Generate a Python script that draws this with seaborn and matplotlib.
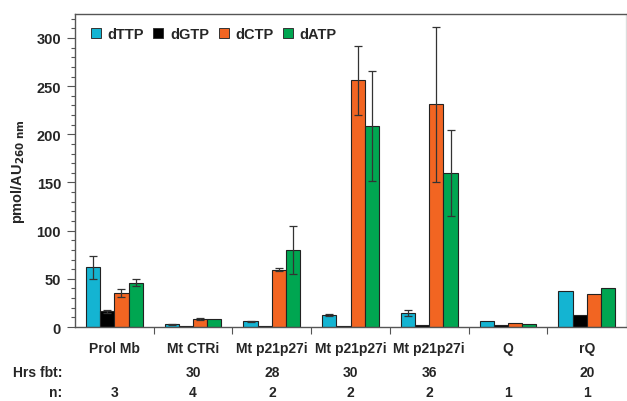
import matplotlib
matplotlib.use("Agg")
import matplotlib.pyplot as plt
from matplotlib.lines import Line2D
from matplotlib.ticker import MultipleLocator, FixedLocator
import numpy as np
import pandas as pd
import seaborn as sns

sns.set_theme(style="white")
plt.rcParams["font.family"] = ["Liberation Sans", "DejaVu Sans"]
plt.rcParams["font.weight"] = "bold"

# data
groups = ["Prol Mb", "Mt CTRi", "Mt p21p27i", "Mt p21p27i ", "Mt p21p27i  ", "Q", "rQ"]
group_labels = ["Prol Mb", "Mt CTRi", "Mt p21p27i", "Mt p21p27i", "Mt p21p27i", "Q", "rQ"]
hrs_fbt = ["", "30", "28", "30", "36", "", "20"]
n_reps = ["3", "4", "2", "2", "2", "1", "1"]
nucleotides = ["dTTP", "dGTP", "dCTP", "dATP"]

dttp = [62, 3, 6, 12.5, 14.5, 6, 37]
dgtp = [16.5, 1, 1, 1.5, 2, 2, 12]
dctp = [35, 8.5, 59.5, 256, 231, 4.5, 34]
datp = [46, 8, 80, 209, 160, 3.5, 40]

dttp_err = [12, 0.5, 0.5, 1, 3, 0, 0]
dgtp_err = [1.5, 0, 0, 0, 0, 0, 0]
dctp_err = [4, 1, 1.5, 36, 80, 0, 0]
datp_err = [3.5, 0, 25, 57, 45, 0, 0]

colors = ["#14B4D2", "#000000", "#F26522", "#00A651"]

values = [dttp, dgtp, dctp, datp]
errors = [dttp_err, dgtp_err, dctp_err, datp_err]

df = pd.DataFrame({
    "group": np.repeat([groups], 4, axis=0).ravel(),
    "nuc": np.repeat(nucleotides, len(groups)),
    "val": np.concatenate(values),
})

fig = plt.figure(figsize=(6.27, 4.02), dpi=100)
ax = fig.add_axes([0.1196, 0.184, 0.879, 0.779])

sns.barplot(data=df, x="group", y="val", hue="nuc", order=groups,
            hue_order=nucleotides, palette=colors, saturation=1, errorbar=None,
            width=0.72, edgecolor="#222222", linewidth=0.8, ax=ax, legend=False)

# error bars on top of each bar
for cont, err in zip(ax.containers, errors):
    xs = [p.get_x() + p.get_width() / 2 for p in cont.patches]
    hs = [p.get_height() for p in cont.patches]
    e = np.array(err, dtype=float)
    mask = e > 0
    ax.errorbar(np.array(xs)[mask], np.array(hs)[mask], yerr=e[mask], fmt="none",
                ecolor="#333333", elinewidth=0.9, capsize=3, capthick=0.9)

ax.set_ylim(0, 325)
ax.set_xlim(-0.5, len(groups) - 0.5)
ax.yaxis.set_major_locator(MultipleLocator(50))
ax.yaxis.set_minor_locator(MultipleLocator(10))
ax.tick_params(axis="y", which="major", direction="out", length=6, width=0.8,
               color="#555555", left=True, labelsize=10.5, pad=4)
ax.tick_params(axis="y", which="minor", direction="out", length=3, width=0.8,
               color="#555555", left=True)

ax.set_xticks(range(len(groups)))
ax.set_xticklabels(group_labels, fontsize=10, fontweight="bold")
ax.xaxis.set_minor_locator(FixedLocator(np.arange(0.5, len(groups) - 1, 1)))
ax.tick_params(axis="x", which="major", length=0, pad=10)
ax.tick_params(axis="x", which="minor", direction="out", length=5, width=0.8,
               color="#555555", bottom=True)
for lab in ax.get_yticklabels():
    lab.set_fontweight("bold")

for s in ax.spines.values():
    s.set_color("#555555")
    s.set_linewidth(1.0)
ax.spines["right"].set_color("#dddddd")

ax.set_xlabel("")
ax.set_ylabel("pmol/AU$_{\\mathbf{260\\ nm}}$", fontsize=10.5, fontweight="bold",
              labelpad=7)

handles = [Line2D([], [], marker="s", linestyle="none", markersize=7,
                  markerfacecolor=c, markeredgecolor="#333333", markeredgewidth=0.7)
           for c in colors]
ax.legend(handles, nucleotides, loc="upper left", ncol=4, frameon=False,
          handlelength=0.8, handletextpad=0.4, columnspacing=0.6,
          bbox_to_anchor=(0.003, 1.0), prop={"weight": "bold", "size": 10.5})

# rows under the chart
fig.text(0.099, 0.072, "Hrs fbt:", ha="right", va="center", fontsize=10, fontweight="bold")
fig.text(0.099, 0.022, "n:", ha="right", va="center", fontsize=10, fontweight="bold")
for i, (h, n) in enumerate(zip(hrs_fbt, n_reps)):
    x_fig = fig.transFigure.inverted().transform(ax.transData.transform((i, 0)))[0]
    fig.text(x_fig, 0.072, h, ha="center", va="center", fontsize=10, fontweight="bold")
    fig.text(x_fig, 0.022, n, ha="center", va="center", fontsize=10, fontweight="bold")

fig.savefig("out.png", dpi=100)
